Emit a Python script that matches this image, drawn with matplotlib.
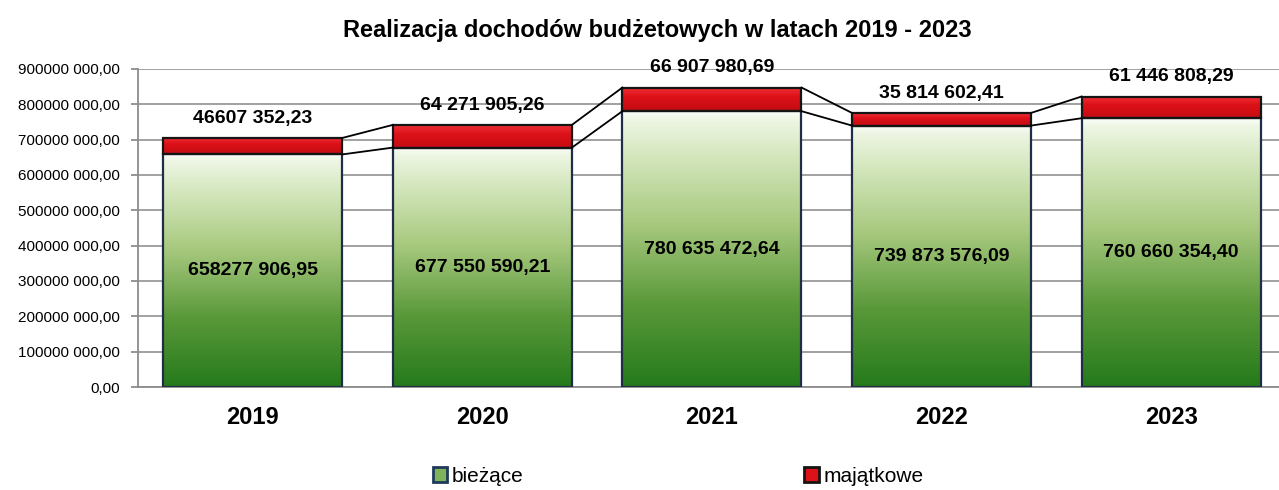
import matplotlib.pyplot as plt
import numpy as np
from matplotlib.colors import LinearSegmentedColormap
from matplotlib.patches import Patch

plt.rcParams['font.family'] = ['Liberation Sans', 'DejaVu Sans']

years = ['2019', '2020', '2021', '2022', '2023']
biezace = [658277906.95, 677550590.21, 780635472.64, 739873576.09, 760660354.40]
majatkowe = [46607352.23, 64271905.26, 66907980.69, 35814602.41, 61446808.29]
biezace_labels = ['658277 906,95', '677 550 590,21', '780 635 472,64',
                  '739 873 576,09', '760 660 354,40']
majatkowe_labels = ['46607 352,23', '64 271 905,26', '66 907 980,69',
                    '35 814 602,41', '61 446 808,29']
yticks = [0, 100e6, 200e6, 300e6, 400e6, 500e6, 600e6, 700e6, 800e6, 900e6]
ytick_labels = ['0,00', '100000 000,00', '200000 000,00', '300000 000,00',
                '400000 000,00', '500000 000,00', '600000 000,00',
                '700000 000,00', '800000 000,00', '900000 000,00']

green_cmap = LinearSegmentedColormap.from_list(
    'green', [(0.0, '#257a1b'), (0.3, '#5a993a'), (0.6, '#a9ca80'),
              (0.85, '#d6e8c0'), (0.97, '#eef6e4'), (1.0, '#fbfdf8')])
red_cmap = LinearSegmentedColormap.from_list(
    'red', [(0.0, '#c40c12'), (0.6, '#dd1118'), (1.0, '#f03038')])

fig = plt.figure(figsize=(12.79, 4.9), dpi=100)
ax = fig.add_axes([138 / 1279, 103 / 490, 1141 / 1279, 318 / 490])

x = np.arange(len(years))
w = 0.78

green_bars = ax.bar(x, biezace, width=w, facecolor='none',
                    edgecolor='#1f2d48', linewidth=1.6, zorder=3)
red_bars = ax.bar(x, majatkowe, width=w, bottom=biezace, facecolor='none',
                  edgecolor='#151515', linewidth=1.6, zorder=3)

grad = np.linspace(0, 1, 256).reshape(-1, 1)
for bar in green_bars:
    bx, by = bar.get_x(), bar.get_y()
    im = ax.imshow(grad, cmap=green_cmap, aspect='auto', origin='lower',
                   extent=[bx, bx + bar.get_width(), by, by + bar.get_height()],
                   zorder=2)
    im.set_clip_path(bar)
for bar in red_bars:
    bx, by = bar.get_x(), bar.get_y()
    im = ax.imshow(grad, cmap=red_cmap, aspect='auto', origin='lower',
                   extent=[bx, bx + bar.get_width(), by, by + bar.get_height()],
                   zorder=2)
    im.set_clip_path(bar)

# series lines between the bars
totals = [b + m for b, m in zip(biezace, majatkowe)]
for i in range(len(years) - 1):
    for series in (biezace, totals):
        ax.plot([x[i] + w / 2, x[i + 1] - w / 2], [series[i], series[i + 1]],
                color='black', linewidth=1.3, zorder=4)

for i in range(len(years)):
    ax.text(x[i], biezace[i] / 2, biezace_labels[i], ha='center', va='center',
            fontsize=14, fontweight='bold', zorder=5)
    ax.annotate(majatkowe_labels[i], (x[i], totals[i]), xytext=(0, 8),
                textcoords='offset points', ha='center', va='bottom',
                fontsize=14, fontweight='bold', zorder=5)

ax.set_xlim(-0.5, 4.47)
ax.set_ylim(0, 900e6)
ax.set_yticks(yticks)
ax.set_yticklabels(ytick_labels, fontsize=11)
ax.set_xticks(x)
ax.set_xticklabels(years, fontsize=17, fontweight='bold')
ax.tick_params(axis='x', length=0, pad=14)
ax.tick_params(axis='y', length=5, color='#8c8c8c', width=1.3, pad=8)
ax.yaxis.grid(True, color='#9a9a9a', linewidth=1.3, zorder=0)
ax.set_axisbelow(True)
for side in ('top', 'right'):
    ax.spines[side].set_visible(False)
for side in ('left', 'bottom'):
    ax.spines[side].set_color('#8c8c8c')
    ax.spines[side].set_linewidth(1.3)

fig.text(657 / 1279, 1 - 30 / 490, 'Realizacja dochodów budżetowych w latach 2019 - 2023',
         ha='center', va='center', fontsize=17, fontweight='bold')

handles = [Patch(facecolor='#7fb35a', edgecolor='#1f3a5c', linewidth=2),
           Patch(facecolor='#dd1118', edgecolor='#151515', linewidth=2)]
fig.legend(handles, ['bieżące', 'majątkowe'], ncol=2, frameon=False,
           fontsize=15, handlelength=0.7, handleheight=0.7, handletextpad=0.2,
           columnspacing=13.5, loc='center', bbox_to_anchor=(678 / 1279, 1 - 476 / 490))

fig.savefig('out.png', dpi=100)
